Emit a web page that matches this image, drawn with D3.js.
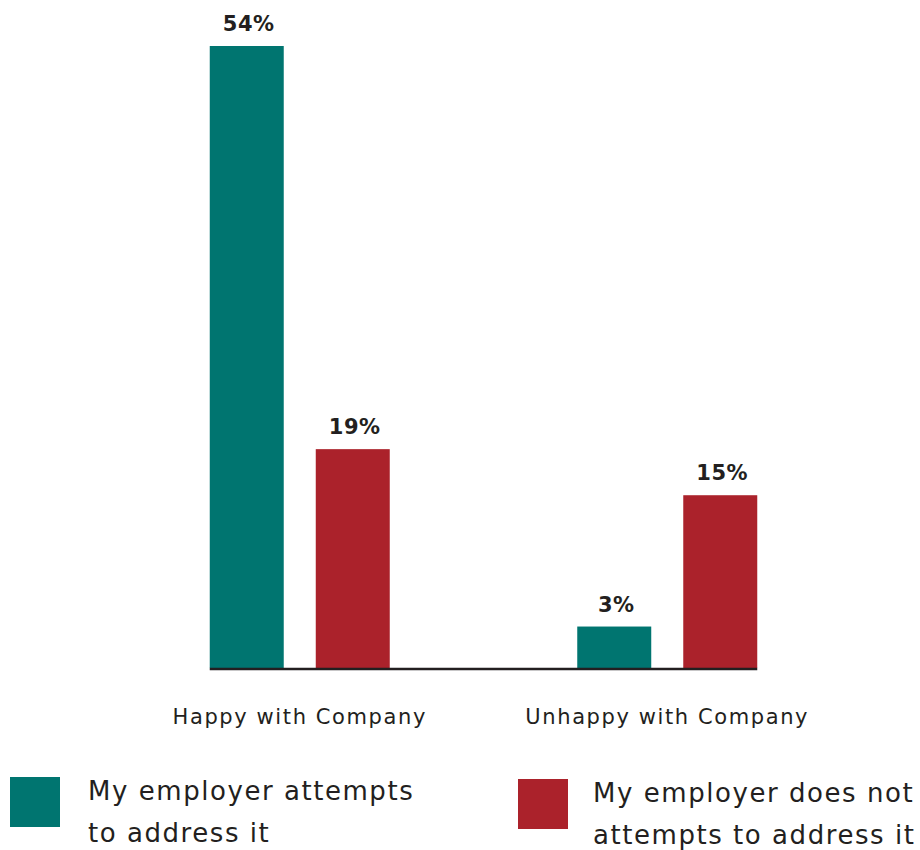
<!DOCTYPE html>
<html>
<head>
<meta charset="utf-8">
<script src="https://cdn.jsdelivr.net/npm/d3@7"></script>
<style>
  body { margin: 0; background: #fff; }
  svg text { font-family: "DejaVu Sans", sans-serif; fill: #231f20; }
</style>
</head>
<body>
<svg id="chart" width="920" height="850"></svg>
<script>
// data
const groups = ['Happy with Company', 'Unhappy with Company'];
const seriesKeys = ['attempts', 'doesNot'];
const attemptsValues = [54, 3.6];
const doesNotValues = [19, 15];
const attemptsLabels = ['54%', '3%'];
const doesNotLabels = ['19%', '15%'];
const legendLabels = [
    ['My employer attempts', 'to address it'],
    ['My employer does not', 'attempts to address it']
];

const colors = { attempts: '#007570', doesNot: '#ab222b' };

let rows = groups.map((g, i) => ({
    group: g,
    attempts: { value: attemptsValues[i], label: attemptsLabels[i] },
    doesNot: { value: doesNotValues[i], label: doesNotLabels[i] }
}));

let svg = d3.select('#chart');

let x0 = d3.scaleBand()
    .domain(groups)
    .range([116, 851]);

let x1 = d3.scaleBand()
    .domain(seriesKeys)
    .range([x0.bandwidth() / 2 - 90, x0.bandwidth() / 2 + 90])
    .paddingInner(0.302);

let y = d3.scaleLinear()
    .domain([0, 54])
    .range([668, 46]);

let groupSel = svg.selectAll('g.group')
    .data(rows)
    .enter()
    .append('g')
    .classed('group', true)
    .attr('transform', d => 'translate(' + x0(d.group) + ',0)');

let barData = d => seriesKeys.map(k => ({ key: k, value: d[k].value, label: d[k].label }));

groupSel.selectAll('rect')
    .data(barData)
    .enter()
    .append('rect')
    .attr('x', d => x1(d.key))
    .attr('y', d => y(d.value))
    .attr('width', x1.bandwidth())
    .attr('height', d => y(0) - y(d.value))
    .attr('fill', d => colors[d.key]);

groupSel.selectAll('text.value')
    .data(barData)
    .enter()
    .append('text')
    .classed('value', true)
    .attr('x', d => x1(d.key) + x1.bandwidth() / 2 + 2)
    .attr('y', d => y(d.value) - 15)
    .attr('text-anchor', 'middle')
    .style('font-size', '21px')
    .style('font-weight', 'bold')
    .style('letter-spacing', '0.5px')
    .text(d => d.label);

// baseline
let lineStart = x0(groups[0]) + x1(seriesKeys[0]);
let lineEnd = x0(groups[groups.length - 1]) + x1(seriesKeys[seriesKeys.length - 1]) + x1.bandwidth();
svg.append('line')
    .attr('x1', lineStart)
    .attr('x2', lineEnd)
    .attr('y1', y(0) + 1)
    .attr('y2', y(0) + 1)
    .attr('stroke', '#231f20')
    .attr('stroke-width', 2.5);

// category labels
svg.selectAll('text.cat')
    .data(groups)
    .enter()
    .append('text')
    .classed('cat', true)
    .attr('x', d => x0(d) + x0.bandwidth() / 2)
    .attr('y', 724)
    .attr('text-anchor', 'middle')
    .style('font-size', '21px')
    .style('letter-spacing', '1.6px')
    .text(d => d);

// legend
let legendX = [10, 518];
let legendY = [777, 779];
let legendTextX = [78, 75];
let legend = svg.selectAll('g.legend')
    .data(seriesKeys)
    .enter()
    .append('g')
    .classed('legend', true)
    .attr('transform', (d, i) => 'translate(' + legendX[i] + ',' + legendY[i] + ')');

legend.append('rect')
    .attr('width', 50)
    .attr('height', 50)
    .attr('fill', d => colors[d]);

legend.each(function(d, i) {
    let t = d3.select(this).append('text')
        .attr('y', 23)
        .style('font-size', '26px')
        .style('letter-spacing', '1.55px');
    legendLabels[i].forEach((line, j) => {
        t.append('tspan')
            .attr('x', legendTextX[i])
            .attr('dy', j === 0 ? 0 : 42)
            .text(line);
    });
});
</script>
</body>
</html>
